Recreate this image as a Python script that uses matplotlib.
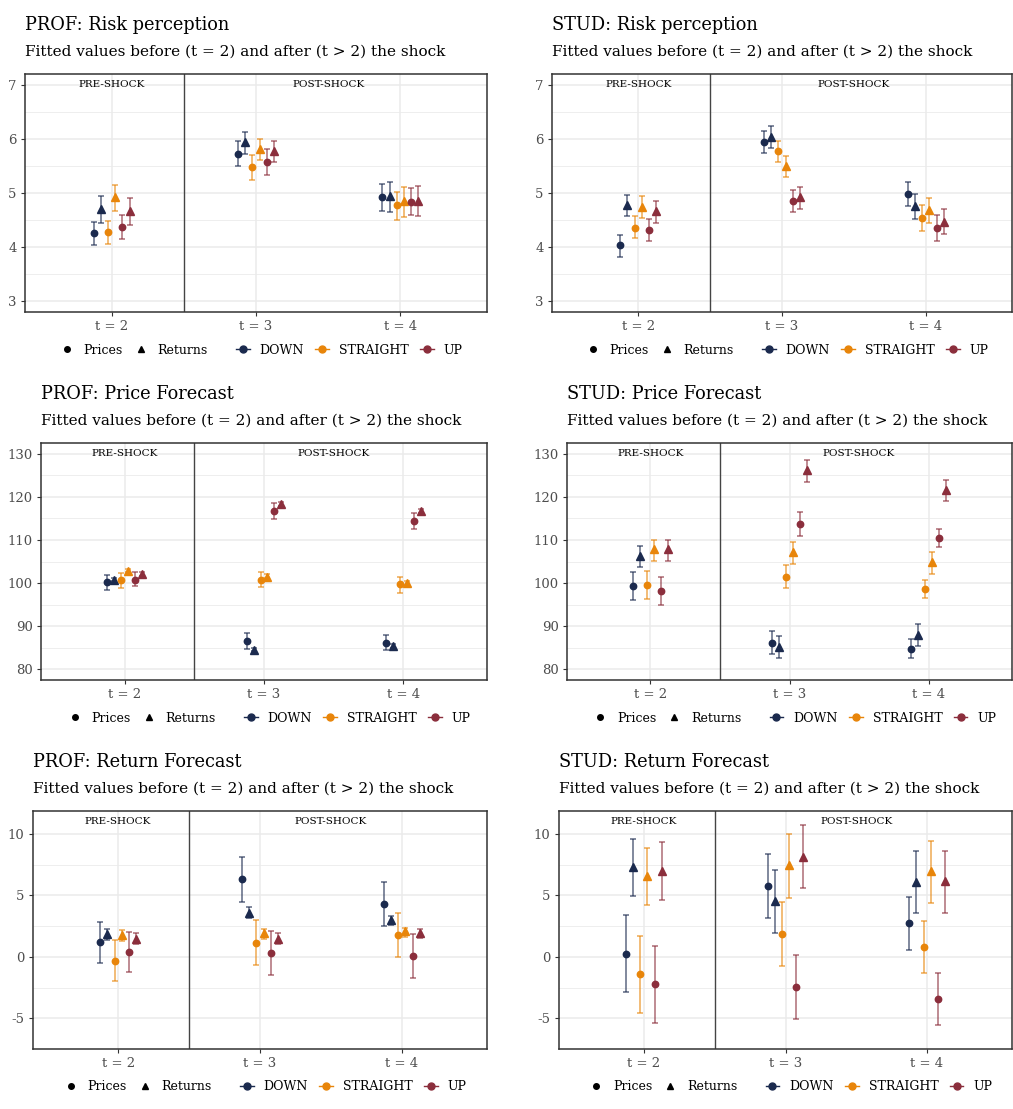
import matplotlib
matplotlib.use("Agg")
from matplotlib import pyplot as plt
from matplotlib.lines import Line2D
import numpy as np

plt.rcParams['font.family'] = ['DejaVu Serif']
plt.rcParams['axes.unicode_minus'] = False

times = ['t = 2', 't = 3', 't = 4']
groups = ['DOWN', 'STRAIGHT', 'UP']
colors = ['#1B2A4E', '#E8850A', '#8B2E3C']

# ---- PROF: Risk perception  (rows: DOWN, STRAIGHT, UP; cols: t=2,3,4)
prof_risk_p = [[4.26, 5.73, 4.92], [4.28, 5.48, 4.77], [4.37, 5.57, 4.84]]
prof_risk_p_lo = [[4.04, 5.50, 4.66], [4.06, 5.24, 4.51], [4.15, 5.34, 4.59]]
prof_risk_p_hi = [[4.47, 5.97, 5.17], [4.49, 5.71, 5.01], [4.59, 5.81, 5.09]]
prof_risk_r = [[4.71, 5.95, 4.94], [4.92, 5.82, 4.86], [4.66, 5.78, 4.85]]
prof_risk_r_lo = [[4.44, 5.73, 4.64], [4.66, 5.61, 4.56], [4.41, 5.57, 4.57]]
prof_risk_r_hi = [[4.94, 6.13, 5.21], [5.14, 6.00, 5.12], [4.90, 5.97, 5.13]]

# ---- STUD: Risk perception
stud_risk_p = [[4.03, 5.94, 4.99], [4.36, 5.77, 4.54], [4.32, 4.85, 4.35]]
stud_risk_p_lo = [[3.82, 5.74, 4.76], [4.16, 5.57, 4.30], [4.12, 4.65, 4.12]]
stud_risk_p_hi = [[4.23, 6.14, 5.21], [4.57, 5.96, 4.77], [4.52, 5.05, 4.59]]
stud_risk_r = [[4.78, 6.04, 4.76], [4.75, 5.50, 4.68], [4.67, 4.92, 4.47]]
stud_risk_r_lo = [[4.57, 5.83, 4.52], [4.54, 5.30, 4.44], [4.45, 4.71, 4.24]]
stud_risk_r_hi = [[4.97, 6.23, 4.98], [4.94, 5.69, 4.90], [4.86, 5.11, 4.70]]

# ---- PROF: Price Forecast
prof_price_p = [[100.2, 86.5, 86.2], [100.6, 100.8, 99.7], [100.8, 116.8, 114.5]]
prof_price_p_lo = [[98.5, 84.7, 84.4], [98.9, 99.0, 97.8], [99.2, 114.9, 112.6]]
prof_price_p_hi = [[101.9, 88.3, 87.9], [102.3, 102.5, 101.5], [102.5, 118.5, 116.2]]
prof_price_r = [[100.8, 84.5, 85.4], [102.8, 101.5, 100.0], [102.1, 118.3, 116.8]]
prof_price_r_lo = [[100.5, 84.2, 84.9], [102.5, 101.1, 99.5], [101.7, 117.8, 116.3]]
prof_price_r_hi = [[101.1, 85.0, 85.8], [103.2, 102.0, 100.4], [102.5, 118.8, 117.2]]

# ---- STUD: Price Forecast
stud_price_p = [[99.3, 86.2, 84.8], [99.6, 101.5, 98.7], [98.2, 113.7, 110.5]]
stud_price_p_lo = [[96.1, 83.5, 82.7], [96.4, 98.8, 96.6], [95.0, 110.9, 108.4]]
stud_price_p_hi = [[102.5, 88.8, 86.9], [102.7, 104.1, 100.8], [101.4, 116.4, 112.6]]
stud_price_r = [[106.3, 85.2, 88.0], [107.8, 107.2, 104.9], [107.8, 126.2, 121.6]]
stud_price_r_lo = [[103.8, 82.5, 85.3], [105.2, 104.5, 102.2], [105.2, 123.5, 119.0]]
stud_price_r_hi = [[108.6, 87.8, 90.4], [110.0, 109.6, 107.3], [109.9, 128.6, 124.0]]

# ---- PROF: Return Forecast
prof_ret_p = [[1.17, 6.30, 4.30], [-0.31, 1.15, 1.77], [0.36, 0.29, 0.05]]
prof_ret_p_lo = [[-0.47, 4.48, 2.50], [-1.98, -0.68, -0.03], [-1.28, -1.51, -1.74]]
prof_ret_p_hi = [[2.79, 8.13, 6.09], [1.33, 2.97, 3.59], [2.00, 2.11, 1.88]]
prof_ret_r = [[1.85, 3.59, 2.99], [1.77, 1.90, 2.06], [1.48, 1.48, 1.93]]
prof_ret_r_lo = [[1.33, 3.15, 2.60], [1.28, 1.43, 1.59], [1.04, 1.07, 1.54]]
prof_ret_r_hi = [[2.24, 4.01, 3.31], [2.19, 2.29, 2.34], [1.95, 1.93, 2.24]]

# ---- STUD: Return Forecast
stud_ret_p = [[0.23, 5.73, 2.71], [-1.43, 1.85, 0.78], [-2.24, -2.42, -3.44]]
stud_ret_p_lo = [[-2.89, 3.13, 0.57], [-4.56, -0.78, -1.35], [-5.36, -5.08, -5.57]]
stud_ret_p_hi = [[3.36, 8.39, 4.84], [1.69, 4.45, 2.92], [0.86, 0.16, -1.33]]
stud_ret_r = [[7.29, 4.51, 6.09], [6.54, 7.42, 6.95], [7.00, 8.15, 6.12]]
stud_ret_r_lo = [[4.92, 1.90, 3.59], [4.17, 4.79, 4.40], [4.64, 5.55, 3.59]]
stud_ret_r_hi = [[9.61, 7.06, 8.59], [8.85, 10.00, 9.43], [9.32, 10.73, 8.59]]

W, H = 1013, 1109
fig = plt.figure(figsize=(W / 100, H / 100), dpi=100)

def px_axes(l, t, r, b):
    return fig.add_axes([l / W, 1 - b / H, (r - l) / W, (b - t) / H])

subtitle = "Fitted values before (t = 2) and after (t > 2) the shock"

panels = [
    ("PROF: Risk perception", (25, 74, 487, 312), (3, 7), [3, 4, 5, 6, 7],
     prof_risk_p, prof_risk_p_lo, prof_risk_p_hi, prof_risk_r, prof_risk_r_lo, prof_risk_r_hi),
    ("STUD: Risk perception", (552, 74, 1012, 312), (3, 7), [3, 4, 5, 6, 7],
     stud_risk_p, stud_risk_p_lo, stud_risk_p_hi, stud_risk_r, stud_risk_r_lo, stud_risk_r_hi),
    ("PROF: Price Forecast", (41, 443, 487, 680), (80, 130), [80, 90, 100, 110, 120, 130],
     prof_price_p, prof_price_p_lo, prof_price_p_hi, prof_price_r, prof_price_r_lo, prof_price_r_hi),
    ("STUD: Price Forecast", (567, 443, 1012, 680), (80, 130), [80, 90, 100, 110, 120, 130],
     stud_price_p, stud_price_p_lo, stud_price_p_hi, stud_price_r, stud_price_r_lo, stud_price_r_hi),
    ("PROF: Return Forecast", (33, 811, 487, 1049), (-6, 11), [-5, 0, 5, 10],
     prof_ret_p, prof_ret_p_lo, prof_ret_p_hi, prof_ret_r, prof_ret_r_lo, prof_ret_r_hi),
    ("STUD: Return Forecast", (559, 811, 1012, 1049), (-6, 11), [-5, 0, 5, 10],
     stud_ret_p, stud_ret_p_lo, stud_ret_p_hi, stud_ret_r, stud_ret_r_lo, stud_ret_r_hi),
]

x = np.arange(2, 5)
offsets = [-0.125, -0.025, 0.075]  # prices; returns get +0.05

for title, box, lims, ticks, pm, plo, phi, rm, rlo, rhi in panels:
    l, t, r, b = box
    ax = px_axes(l, t, r, b)
    pad = (lims[1] - lims[0]) * 0.05
    ax.set_ylim(lims[0] - pad, lims[1] + pad)
    ax.set_xlim(1.4, 4.6)
    ax.set_xticks(x)
    ax.set_xticklabels(times)
    ax.set_yticks(ticks)
    minor = [(a + c) / 2 for a, c in zip(ticks[:-1], ticks[1:])]
    if lims[0] < ticks[0]:
        minor = [ticks[0] - (ticks[1] - ticks[0]) / 2] + minor
    ax.set_yticks(minor, minor=True)
    ax.grid(True, which='major', color='#EBEBEB', lw=1.1, zorder=0)
    ax.grid(True, which='minor', axis='y', color='#EBEBEB', lw=0.6, zorder=0)
    ax.set_axisbelow(True)
    ax.tick_params(which='minor', length=0)
    ax.tick_params(which='major', length=3, color='#333333', labelcolor='#4D4D4D', labelsize=9.5, pad=3)
    for s in ax.spines.values():
        s.set_color('#333333')
        s.set_linewidth(1.1)
    ax.axvline(2.5, color='#444444', lw=1.0, zorder=1)
    ax.text(2, lims[1], "PRE-SHOCK", ha='center', va='center', fontsize=7.5, color='black')
    ax.text(3.5, lims[1], "POST-SHOCK", ha='center', va='center', fontsize=7.5, color='black')

    for g in range(3):
        c = colors[g]
        xp = x + offsets[g]
        xr = xp + 0.05
        pmid = np.array(pm[g]); rmid = np.array(rm[g])
        ax.errorbar(xp, pmid, yerr=[pmid - np.array(plo[g]), np.array(phi[g]) - pmid],
                    fmt='none', ecolor=c, alpha=0.7, elinewidth=1.1, capsize=2.2, capthick=1.1, zorder=2)
        ax.errorbar(xr, rmid, yerr=[rmid - np.array(rlo[g]), np.array(rhi[g]) - rmid],
                    fmt='none', ecolor=c, alpha=0.7, elinewidth=1.1, capsize=2.2, capthick=1.1, zorder=2)
        ax.plot(xp, pmid, 'o', color=c, markersize=4.6, zorder=3)
        ax.plot(xr, rmid, '^', color=c, markersize=5.2, zorder=3)

    # titles
    fig.text(l / W, 1 - (t - 49) / H, title, ha='left', va='center', fontsize=12.8)
    fig.text(l / W, 1 - (t - 22) / H, subtitle, ha='left', va='center', fontsize=11)

    # legends
    shape_handles = [Line2D([], [], marker='o', color='black', ls='None', markersize=4),
                     Line2D([], [], marker='^', color='black', ls='None', markersize=5)]
    color_handles = [Line2D([], [], marker='o', color=c, lw=1.0, markersize=5) for c in colors]
    cx = (l + r) / 2
    ly = 1 - (b + 38) / H
    common = dict(frameon=False, fontsize=9, handlelength=1.1, handletextpad=0.8,
                  columnspacing=0.9, borderpad=0, borderaxespad=0)
    fig.legend(shape_handles, ['Prices', 'Returns'], loc='center right',
               bbox_to_anchor=((cx - 48) / W, ly), ncol=2, **common)
    fig.legend(color_handles, groups, loc='center left',
               bbox_to_anchor=((cx - 20) / W, ly), ncol=3, **common)

fig.savefig("out.png", dpi=100)
